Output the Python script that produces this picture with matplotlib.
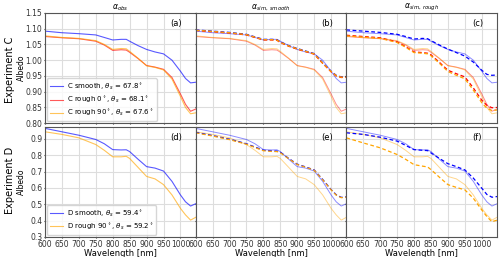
import matplotlib
matplotlib.use("Agg")
import matplotlib.pyplot as plt

# wavelength grid [nm]
wl = [600, 650, 700, 750, 775, 800, 825, 840, 850, 875, 900, 925, 950, 975, 1000, 1015, 1030, 1045]

# Experiment C, observations
c_smooth_obs = [1.092, 1.087, 1.084, 1.080, 1.072, 1.064, 1.066, 1.066, 1.060, 1.046, 1.034, 1.026, 1.020, 1.000, 0.965, 0.942, 0.928, 0.930]
c_rough0_obs = [1.075, 1.071, 1.068, 1.060, 1.048, 1.031, 1.033, 1.032, 1.025, 1.005, 0.983, 0.978, 0.971, 0.945, 0.893, 0.860, 0.838, 0.845]
c_rough90_obs = [1.077, 1.072, 1.069, 1.062, 1.050, 1.034, 1.037, 1.036, 1.028, 1.006, 0.982, 0.977, 0.969, 0.940, 0.885, 0.850, 0.830, 0.833]

# Experiment C, simulation with smooth surface
c_smooth_simS = [1.096, 1.092, 1.088, 1.082, 1.074, 1.066, 1.066, 1.065, 1.058, 1.046, 1.037, 1.029, 1.021, 0.992, 0.965, 0.952, 0.947, 0.948]
c_rough0_simS = [1.094, 1.090, 1.086, 1.080, 1.072, 1.064, 1.064, 1.063, 1.056, 1.044, 1.035, 1.027, 1.019, 0.990, 0.963, 0.950, 0.945, 0.946]
c_rough90_simS = [1.095, 1.091, 1.087, 1.081, 1.073, 1.065, 1.065, 1.064, 1.057, 1.045, 1.036, 1.028, 1.020, 0.991, 0.964, 0.951, 0.946, 0.947]

# Experiment C, simulation with rough surface
c_smooth_simR = [1.096, 1.092, 1.088, 1.082, 1.075, 1.067, 1.069, 1.068, 1.062, 1.048, 1.035, 1.024, 1.013, 0.994, 0.968, 0.955, 0.952, 0.953]
c_rough0_simR = [1.079, 1.075, 1.071, 1.058, 1.043, 1.026, 1.024, 1.022, 1.017, 0.993, 0.968, 0.957, 0.947, 0.912, 0.873, 0.857, 0.849, 0.850]
c_rough90_simR = [1.077, 1.073, 1.069, 1.056, 1.041, 1.024, 1.022, 1.020, 1.014, 0.990, 0.964, 0.952, 0.941, 0.905, 0.865, 0.848, 0.840, 0.842]

# Experiment D, observations
d_smooth_obs = [0.964, 0.943, 0.922, 0.896, 0.870, 0.834, 0.832, 0.833, 0.822, 0.775, 0.730, 0.721, 0.703, 0.640, 0.557, 0.515, 0.489, 0.503]
d_rough90_obs = [0.943, 0.927, 0.906, 0.865, 0.830, 0.790, 0.790, 0.793, 0.780, 0.725, 0.670, 0.655, 0.620, 0.557, 0.475, 0.435, 0.403, 0.420]

# Experiment D, simulations
d_smooth_simS = [0.940, 0.920, 0.898, 0.870, 0.850, 0.830, 0.826, 0.825, 0.818, 0.780, 0.745, 0.728, 0.710, 0.652, 0.590, 0.558, 0.542, 0.545]
d_rough90_simS = [0.937, 0.917, 0.895, 0.867, 0.847, 0.827, 0.823, 0.822, 0.815, 0.778, 0.743, 0.726, 0.708, 0.650, 0.588, 0.556, 0.540, 0.543]
d_smooth_simR = [0.937, 0.927, 0.910, 0.886, 0.860, 0.834, 0.830, 0.828, 0.814, 0.780, 0.748, 0.730, 0.710, 0.660, 0.598, 0.560, 0.543, 0.547]
d_rough90_simR = [0.906, 0.875, 0.845, 0.804, 0.775, 0.742, 0.733, 0.728, 0.712, 0.665, 0.620, 0.603, 0.588, 0.537, 0.465, 0.425, 0.393, 0.403]

c_labels = [r'C smooth, $\theta_s$ = 67.8$^\circ$', r'C rough 0$^\circ$, $\theta_s$ = 68.1$^\circ$',
            r'C rough 90$^\circ$, $\theta_s$ = 67.6$^\circ$']
d_labels = [r'D smooth, $\theta_s$ = 59.4$^\circ$', r'D rough 90$^\circ$, $\theta_s$ = 59.2$^\circ$']
titles = [r'$\alpha_{obs}$', r'$\alpha_{sim,\,smooth}$', r'$\alpha_{sim,\,rough}$']
panel_tags = ['(a)', '(b)', '(c)', '(d)', '(e)', '(f)']

plt.rcParams['font.size'] = 5.5

fig, axes = plt.subplots(2, 3, figsize=(5.0, 2.57), dpi=100, sharex=True)
fig.subplots_adjust(left=0.09, right=0.994, top=0.95, bottom=0.078, wspace=0, hspace=0.03)

c_obs = [c_smooth_obs, c_rough0_obs, c_rough90_obs]
c_sims = [[c_smooth_simS, c_rough0_simS, c_rough90_simS], [c_smooth_simR, c_rough0_simR, c_rough90_simR]]
d_obs = [d_smooth_obs, d_rough90_obs]
d_sims = [[d_smooth_simS, d_rough90_simS], [d_smooth_simR, d_rough90_simR]]
c_cols = ['blue', 'red', 'orange']
d_cols = ['blue', 'orange']

# top row
ax = axes[0, 0]
for y, col, lab in zip(c_obs, c_cols, c_labels):
    ax.plot(wl, y, color=col, lw=0.8, alpha=0.65, label=lab)
ax.legend(loc='lower left', fontsize=5, handlelength=1.9, handletextpad=0.6,
          borderpad=0.4, labelspacing=0.35, borderaxespad=0.3)
for k in range(2):
    ax = axes[0, k + 1]
    for y, col in zip(c_obs, c_cols):
        ax.plot(wl, y, color=col, lw=0.7, alpha=0.45)
    for y, col in zip(c_sims[k], c_cols):
        ax.plot(wl, y, color=col, lw=0.9, ls=(0, (3, 2)))

# bottom row
ax = axes[1, 0]
for y, col, lab in zip(d_obs, d_cols, d_labels):
    ax.plot(wl, y, color=col, lw=0.8, alpha=0.65, label=lab)
ax.legend(loc='lower left', fontsize=5, handlelength=1.9, handletextpad=0.6,
          borderpad=0.4, labelspacing=0.35, borderaxespad=0.3)
for k in range(2):
    ax = axes[1, k + 1]
    for y, col in zip(d_obs, d_cols):
        ax.plot(wl, y, color=col, lw=0.7, alpha=0.45)
    for y, col in zip(d_sims[k], d_cols):
        ax.plot(wl, y, color=col, lw=0.9, ls=(0, (3, 2)))

for i, ax in enumerate(axes.flat):
    ax.set_xlim(600, 1045)
    ax.set_xticks(range(600, 1001, 50))
    ax.grid(True, color='#dddddd', lw=0.8)
    ax.set_axisbelow(True)
    ax.tick_params(labelsize=5.5, length=1, pad=1, colors='#333333')
    ax.text(0.87, 0.9, panel_tags[i], transform=ax.transAxes, ha='center', va='center', fontsize=6)
    for s in ax.spines.values():
        s.set_color('#555555')
        s.set_linewidth(0.8)

for j in range(3):
    axes[0, j].set_ylim(0.80, 1.15)
    axes[0, j].set_yticks([0.80, 0.85, 0.90, 0.95, 1.00, 1.05, 1.10, 1.15])
    axes[1, j].set_ylim(0.3, 0.975)
    axes[1, j].set_yticks([0.3, 0.4, 0.5, 0.6, 0.7, 0.8, 0.9])
    axes[0, j].set_title(titles[j], fontsize=5.5, pad=2)
    axes[1, j].set_xlabel('Wavelength [nm]', fontsize=6, labelpad=0.5)
    if j > 0:
        axes[0, j].tick_params(labelleft=False)
        axes[1, j].tick_params(labelleft=False)

for r in range(2):
    axes[r, 0].set_ylabel('Albedo', fontsize=5.5)
    axes[r, 0].yaxis.set_label_coords(-0.125, 0.5)
fig.text(0.02, 0.73, 'Experiment C', rotation=90, ha='center', va='center', fontsize=7)
fig.text(0.02, 0.30, 'Experiment D', rotation=90, ha='center', va='center', fontsize=7)

fig.savefig('out.png', dpi=100)
